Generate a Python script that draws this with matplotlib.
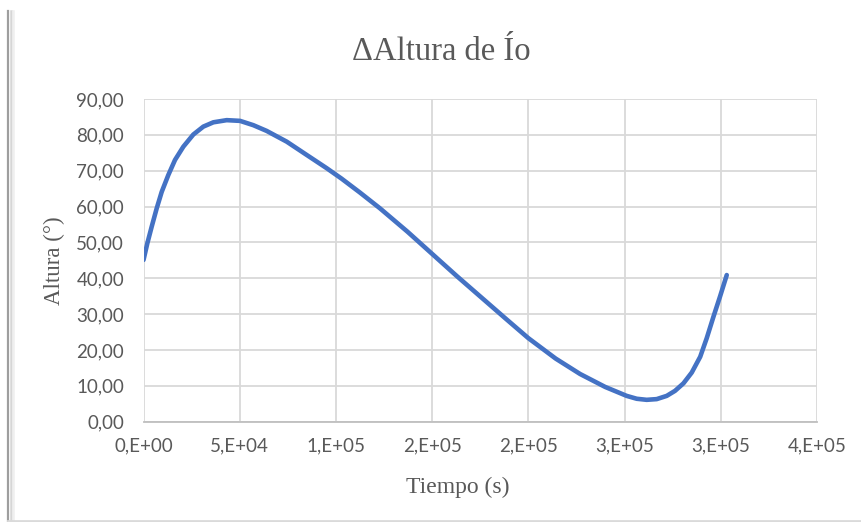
"""Altura de Ío frente al tiempo, estilo hoja de cálculo."""

import matplotlib

matplotlib.use("Agg")
import matplotlib.pyplot as plt
from matplotlib.lines import Line2D

# tiempo (s) y altura (grados)
tiempo_s = [
    0, 1970, 4260, 6860, 9460, 12900, 16370, 20700, 25900, 31100,
    36300, 43250, 50160, 57070, 64000, 74430, 84800, 95200, 102900,
    112500, 122900, 137160, 150000, 162840, 176540, 188530, 200000,
    214200, 226900, 239900, 251100, 256300, 261500, 266700, 271900,
    276200, 280600, 284900, 289300, 292700, 296200, 299600, 303100,
]
altura_deg = [
    45.1, 49.7, 54.4, 59.5, 64.1, 68.8, 73.0, 76.7, 80.1, 82.3,
    83.5, 84.1, 83.9, 82.7, 81.1, 78.1, 74.4, 70.7, 67.8,
    63.9, 59.5, 53.0, 46.8, 40.6, 34.2, 28.6, 23.3,
    17.6, 13.3, 9.7, 7.2, 6.4, 6.1, 6.3, 7.2,
    8.6, 10.7, 13.7, 18.1, 23.3, 29.3, 34.9, 40.9,
]

x_ticks = [0, 50000, 100000, 150000, 200000, 250000, 300000, 350000]
x_tick_labels = ["0,E+00", "5,E+04", "1,E+05", "2,E+05", "2,E+05", "3,E+05", "3,E+05", "4,E+05"]
y_ticks = [0, 10, 20, 30, 40, 50, 60, 70, 80, 90]
y_tick_labels = ["0,00", "10,00", "20,00", "30,00", "40,00", "50,00", "60,00", "70,00", "80,00", "90,00"]

W, H = 861, 522
TEXT_GREY = "#595959"
GRID_GREY = "#D9D9D9"
LINE_BLUE = "#4472C4"

fig = plt.figure(figsize=(W / 100, H / 100), dpi=100)
ax = fig.add_axes([143.5 / W, 1 - 421.7 / H, (817 - 143.5) / W, (421.7 - 99) / H])

ax.plot(tiempo_s, altura_deg, color=LINE_BLUE, lw=3.3,
        solid_capstyle="round", solid_joinstyle="round", zorder=3)

ax.set_xlim(0, 350000)
ax.set_ylim(0, 90)
ax.set_xticks(x_ticks)
ax.set_xticklabels(x_tick_labels)
ax.set_yticks(y_ticks)
ax.set_yticklabels(y_tick_labels)
ax.grid(True, color=GRID_GREY, lw=1.3, zorder=0)
ax.set_axisbelow(True)

for side in ("top", "right", "left"):
    ax.spines[side].set_visible(False)
ax.spines["bottom"].set_color("#BFBFBF")
ax.spines["bottom"].set_linewidth(1.3)

ax.tick_params(length=0, colors=TEXT_GREY, labelsize=13.5)
ax.tick_params(axis="y", pad=14)
ax.tick_params(axis="x", pad=11)
for lbl in ax.get_xticklabels() + ax.get_yticklabels():
    lbl.set_fontfamily("Lato")

serif = "Liberation Serif"
fig.text(441 / W, 1 - 52 / H, "\u0394Altura de Ío", ha="center", va="center",
         fontsize=23.5, family=serif, color=TEXT_GREY)
fig.text(458 / W, 1 - 487 / H, "Tiempo (s)", ha="center", va="center",
         fontsize=17, family=serif, color=TEXT_GREY)
fig.text(54 / W, 1 - 261 / H, "Altura (°)", ha="center", va="center", rotation=90,
         fontsize=16.5, family=serif, color=TEXT_GREY)

# marco de la captura: borde izquierdo con sombra y borde inferior
top = 1 - 11 / H
fig.add_artist(Line2D([8 / W, 8 / W], [0, top], color="#9E9E9E", lw=1.6))
fig.add_artist(Line2D([10.5 / W, 10.5 / W], [0, top], color="#D6D6D6", lw=1.8))
fig.add_artist(Line2D([13 / W, 13 / W], [0, top], color="#EFEFEF", lw=1.8))
fig.add_artist(Line2D([8 / W, 1], [1.5 / H, 1.5 / H], color="#DADADA", lw=2.0))

fig.savefig("out.png", dpi=100)
